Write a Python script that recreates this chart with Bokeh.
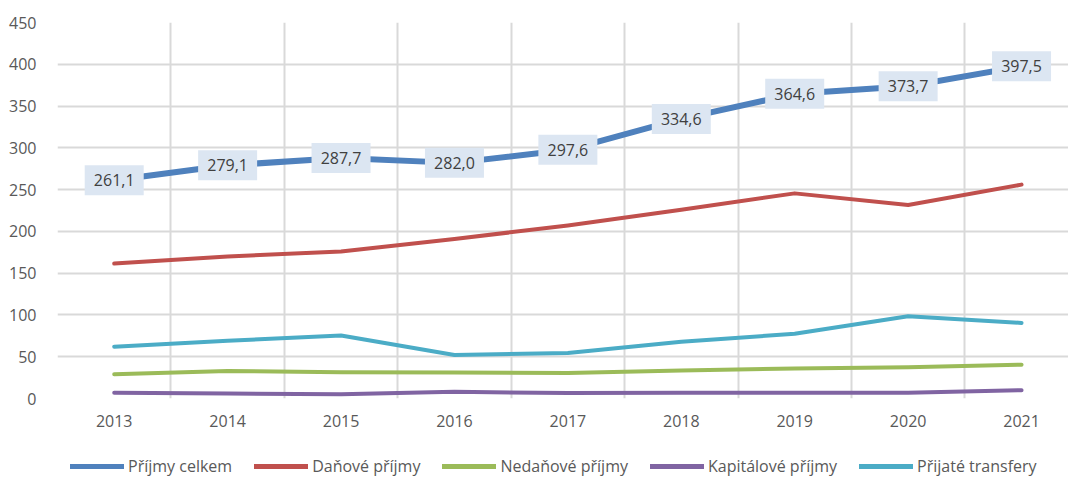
from bokeh.plotting import figure
from bokeh.layouts import column
from bokeh.models import FixedTicker, Legend, LegendItem, Range1d, ColumnDataSource
from bokeh.core.properties import value
from bokeh.embed import file_html
from bokeh.resources import INLINE

years = ["2013", "2014", "2015", "2016", "2017", "2018", "2019", "2020", "2021"]
prijmy_celkem = [261.1, 279.1, 287.7, 282.0, 297.6, 334.6, 364.6, 373.7, 397.5]
danove_prijmy = [161.5, 170.0, 176.0, 191.0, 207.0, 226.0, 245.5, 231.5, 256.0]
nedanove_prijmy = [29.0, 33.0, 31.5, 31.0, 30.5, 33.5, 36.0, 37.5, 40.5]
kapitalove_prijmy = [7.0, 6.0, 5.0, 8.0, 6.5, 7.0, 7.0, 7.0, 10.0]
prijate_transfery = [62.0, 69.0, 75.5, 52.0, 54.5, 68.0, 77.5, 98.5, 90.5]
y_ticks = [0, 50, 100, 150, 200, 250, 300, 350, 400, 450]
labels = ["261,1", "279,1", "287,7", "282,0", "297,6", "334,6", "364,6", "373,7", "397,5"]

x = list(range(len(years)))
FONT = "Open Sans"
TXT = "#595959"

p = figure(frame_width=1011, frame_height=376, output_backend="svg", toolbar_location=None,
           x_range=Range1d(-0.5, 8.414), y_range=Range1d(0, 450),
           min_border_left=57, min_border_right=0, min_border_top=22, min_border_bottom=36)
p.outline_line_color = None
p.background_fill_color = "white"
p.border_fill_color = "white"

p.xaxis.ticker = FixedTicker(ticks=x)
p.xaxis.major_label_overrides = {i: y for i, y in zip(x, years)}
p.xaxis.axis_line_color = None
p.xaxis.major_tick_line_color = None
p.xaxis.minor_tick_line_color = None
p.xaxis.major_label_standoff = 10
p.xaxis.major_label_text_font = FONT
p.xaxis.major_label_text_font_size = "16px"
p.xaxis.major_label_text_color = TXT

p.yaxis.ticker = FixedTicker(ticks=y_ticks)
p.yaxis.axis_line_color = None
p.yaxis.major_tick_line_color = None
p.yaxis.minor_tick_line_color = None
p.yaxis.major_label_standoff = 15
p.yaxis.major_label_text_font = FONT
p.yaxis.major_label_text_font_size = "16px"
p.yaxis.major_label_text_color = TXT

p.xgrid.ticker = FixedTicker(ticks=[i - 0.5 for i in range(10)])
p.xgrid.grid_line_color = "#d9d9d9"
p.xgrid.grid_line_width = 2
p.ygrid.ticker = FixedTicker(ticks=y_ticks)
p.ygrid.grid_line_color = "#d9d9d9"
p.ygrid.grid_line_width = 2

series = [
    ("Příjmy celkem", prijmy_celkem, "#4F81BD", 6),
    ("Daňové příjmy", danove_prijmy, "#C0504D", 4),
    ("Nedaňové příjmy", nedanove_prijmy, "#9BBB59", 4),
    ("Kapitálové příjmy", kapitalove_prijmy, "#8064A2", 4),
    ("Přijaté transfery", prijate_transfery, "#4BACC6", 4),
]
for name, vals, col, w in series:
    p.line(x, vals, line_color=col, line_width=w, line_cap="round", line_join="round")

src = ColumnDataSource(dict(x=x, y=prijmy_celkem, t=labels))
p.rect("x", "y", width=59, height=30, width_units="screen", height_units="screen",
       source=src, fill_color="#DCE6F2", line_color=None)
p.text("x", "y", text="t", source=src, text_align="center", text_baseline="middle",
       text_font=value(FONT), text_font_size="16px", text_color="#404040")

# legend row as a separate strip under the chart (its lines lie outside its view)
lg = figure(width=1068, height=43, output_backend="svg", toolbar_location=None,
            x_range=Range1d(-100, -99), y_range=Range1d(-100, -99),
            min_border_left=0, min_border_right=0, min_border_top=0, min_border_bottom=0)
lg.axis.visible = False
lg.grid.visible = False
lg.outline_line_color = None
lg.background_fill_color = "white"
lg.border_fill_color = "white"
items = []
for name, vals, col, w in series:
    r = lg.line(x, vals, line_color=col, line_width=5, line_cap="round")
    items.append(LegendItem(label=name, renderers=[r]))

legend = Legend(items=items, orientation="horizontal", location=(13, 0))
legend.label_text_font = FONT
legend.label_text_font_size = "16px"
legend.label_text_color = TXT
legend.glyph_width = 54
legend.glyph_height = 18
legend.label_standoff = 4
legend.spacing = 22
legend.padding = 0
legend.margin = 0
legend.border_line_color = None
legend.background_fill_alpha = 0
lg.add_layout(legend)

layout = column(p, lg, spacing=0)
open("out.html", "w").write(file_html(layout, INLINE))
